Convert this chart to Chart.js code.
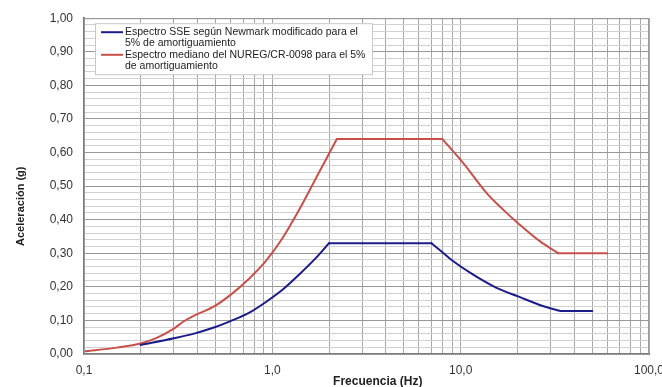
<!DOCTYPE html>
<html>
<head>
<meta charset="utf-8">
<script src="https://cdn.jsdelivr.net/npm/chart.js@4.4.0/dist/chart.umd.min.js"></script>
<style>
  body { margin: 0; background: #fff; }
  #wrap { width: 662px; height: 387px; }
</style>
</head>
<body>
<div id="wrap"><canvas id="chart" width="662" height="387"></canvas></div>
<script>
// Espectro SSE segun Newmark modificado (5%)
const sseFreq = [0.2, 0.3, 0.38, 0.485, 0.6, 0.755, 0.925, 1.136, 1.39, 1.71, 2.0, 7.0, 8.0, 9.1, 11.6, 15.5, 20.5, 27.3, 34, 50];
const sseAcc  = [0.027, 0.047, 0.060, 0.078, 0.098, 0.123, 0.155, 0.192, 0.237, 0.287, 0.33, 0.33, 0.303, 0.277, 0.237, 0.197, 0.17, 0.143, 0.128, 0.128];
const sseCorners = [2.0, 7.0, 34];

// Espectro mediano NUREG/CR-0098 (5%)
const nuregFreq = [0.1, 0.15, 0.2, 0.243, 0.297, 0.336, 0.38, 0.485, 0.6, 0.755, 0.925, 1.136, 1.39, 1.71, 2.2, 8.0, 10.3, 13.7, 16.8, 20.5, 26.3, 33, 60];
const nuregAcc  = [0.008, 0.019, 0.031, 0.048, 0.074, 0.096, 0.113, 0.14, 0.176, 0.225, 0.277, 0.346, 0.43, 0.525, 0.64, 0.64, 0.569, 0.48, 0.43, 0.386, 0.336, 0.30, 0.30];
const nuregCorners = [2.2, 8.0, 33];

const seriesLabels = [
  ["Espectro SSE según Newmark modificado para el", "5% de amortiguamiento"],
  ["Espectro mediano del NUREG/CR-0098 para el 5%", "de amortiguamiento"]
];
const seriesColors = ["#1c1c8a", "#c8504b"];

// tick labels
const xDecades = [0.1, 1, 10, 100];
const yMajor = [0, 0.1, 0.2, 0.3, 0.4, 0.5, 0.6, 0.7, 0.8, 0.9, 1.0];

const FONT = "'Liberation Sans', Arial, sans-serif";

function isMajorY(v) {
  return Math.abs(v * 10 - Math.round(v * 10)) < 1e-6;
}

// split a curve at its corners so each smooth piece keeps sharp ends
function pieces(xs, ys, corners, color) {
  const out = [];
  let cur = [];
  xs.forEach((x, i) => {
    cur.push({ x: x, y: ys[i] });
    if (corners.includes(x) && cur.length > 1) {
      out.push(cur);
      cur = [{ x: x, y: ys[i] }];
    }
  });
  if (cur.length > 1) out.push(cur);
  return out.map(d => ({
    data: d,
    borderColor: color,
    borderWidth: 2,
    pointRadius: 0,
    cubicInterpolationMode: 'monotone',
    borderCapStyle: 'round',
    borderJoinStyle: 'round'
  }));
}

// legend box, frame and axis titles drawn like the original
const boxLegend = {
  id: 'boxLegend',
  afterDraw(chart) {
    const ctx = chart.ctx;
    const a = chart.chartArea;
    ctx.save();
    ctx.strokeStyle = '#9a9a9a';
    ctx.lineWidth = 1;
    ctx.strokeRect(a.left + 0.5, a.top + 0.5, a.right - a.left - 1, a.bottom - a.top);

    const bx = a.left + 11, by = a.top + 5, bw = 277, bh = 51;
    ctx.fillStyle = '#fff';
    ctx.fillRect(bx, by, bw, bh);
    ctx.strokeStyle = '#c8c8c8';
    ctx.strokeRect(bx + 0.5, by + 0.5, bw, bh);

    ctx.font = '10.5px ' + FONT;
    ctx.textBaseline = 'middle';
    ctx.fillStyle = '#222';
    let ly = by + 9;
    seriesLabels.forEach((lines, i) => {
      ctx.strokeStyle = seriesColors[i];
      ctx.lineWidth = 2;
      ctx.beginPath();
      ctx.moveTo(bx + 6, ly);
      ctx.lineTo(bx + 28, ly);
      ctx.stroke();
      lines.forEach((t, j) => {
        ctx.fillText(t, bx + 30, ly + j * 11.3);
      });
      ly += 22.6;
    });

    // axis titles
    ctx.fillStyle = '#222';
    ctx.font = 'bold 12px ' + FONT;
    ctx.textAlign = 'center';
    ctx.fillText('Frecuencia (Hz)', a.left + (a.right - a.left) * 0.52, 382);
    ctx.translate(21, a.top + (a.bottom - a.top) * 0.56);
    ctx.rotate(-Math.PI / 2);
    ctx.font = 'bold 11px ' + FONT;
    ctx.fillText('Aceleración (g)', 0, 0);
    ctx.restore();
  }
};

new Chart(document.getElementById('chart'), {
  type: 'line',
  data: {
    datasets: [
      ...pieces(sseFreq, sseAcc, sseCorners, seriesColors[0]),
      ...pieces(nuregFreq, nuregAcc, nuregCorners, seriesColors[1])
    ]
  },
  options: {
    responsive: false,
    animation: false,
    layout: { padding: { left: 8, right: 13, top: 17, bottom: 0 } },
    plugins: {
      legend: { display: false },
      tooltip: { enabled: false }
    },
    scales: {
      x: {
        type: 'logarithmic',
        min: 0.1,
        max: 100,
        afterBuildTicks: (scale) => {
          const ticks = [];
          for (let d = 0; d < xDecades.length - 1; d++) {
            for (let k = 1; k <= 9; k++) ticks.push({ value: xDecades[d] * k });
          }
          ticks.push({ value: xDecades[xDecades.length - 1] });
          scale.ticks = ticks;
        },
        afterFit: (scale) => {
          scale.height = 33;
          scale.paddingLeft = 0;
          scale.paddingRight = 0;
        },
        ticks: {
          autoSkip: false,
          maxRotation: 0,
          padding: 9,
          color: '#333',
          font: { family: FONT, size: 12 },
          callback: (v) => {
            const d = xDecades.find(t => Math.abs(t - v) < 1e-9);
            return d !== undefined ? d.toFixed(1).replace('.', ',') : '';
          }
        },
        grid: { color: '#a8a8a8', drawTicks: false, lineWidth: 1 },
        border: { color: '#7a7a7a', width: 2 }
      },
      y: {
        min: 0,
        max: 1,
        afterBuildTicks: (scale) => {
          const ticks = [];
          for (let i = 0; i < yMajor.length - 1; i++) {
            for (let k = 0; k < 5; k++) ticks.push({ value: Math.round((yMajor[i] + k * 0.02) * 100) / 100 });
          }
          ticks.push({ value: yMajor[yMajor.length - 1] });
          scale.ticks = ticks;
        },
        afterFit: (scale) => { scale.width = 76; },
        ticks: {
          autoSkip: false,
          padding: 11,
          color: '#333',
          font: { family: FONT, size: 12 },
          callback: (v) => isMajorY(v) ? v.toFixed(2).replace('.', ',') : ''
        },
        grid: {
          drawTicks: false,
          color: (c) => isMajorY(c.tick.value) ? '#989898' : '#d2d2d2',
          lineWidth: 1
        },
        border: { color: '#7a7a7a', width: 2 }
      }
    }
  },
  plugins: [boxLegend]
});
</script>
</body>
</html>
